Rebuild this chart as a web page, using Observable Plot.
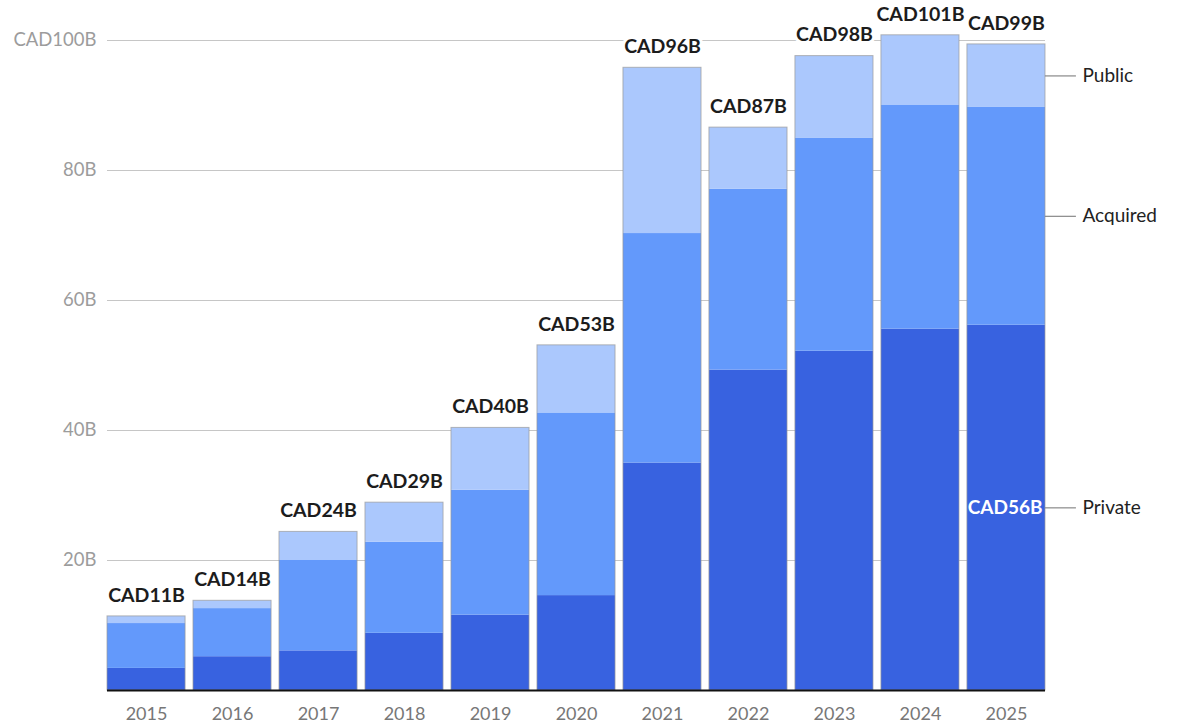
<!DOCTYPE html>
<html>
<head>
<meta charset="utf-8">
<script src="https://cdn.jsdelivr.net/npm/d3@7"></script>
<script src="https://cdn.jsdelivr.net/npm/@observablehq/plot@0.6"></script>
<style>
  html, body { margin: 0; padding: 0; background: #fff; }
  #chart svg { display: block; }
</style>
</head>
<body>
<div id="chart"></div>
<script>
const years = ["2015","2016","2017","2018","2019","2020","2021","2022","2023","2024","2025"];
const privateVals  = [3.4, 5.2, 6.1, 8.8, 11.6, 14.6, 35.0, 49.3, 52.2, 55.6, 56.2];
const acquiredVals = [6.9, 7.4, 13.9, 14.0, 19.2, 28.1, 35.3, 27.8, 32.8, 34.4, 33.5];
const publicVals   = [1.1, 1.2, 4.4, 6.1, 9.6, 10.4, 25.5, 9.5, 12.6, 10.8, 9.7];
const seriesNames  = ["Private", "Acquired", "Public"];
const seriesColors = ["#3862e0", "#6399fb", "#abc8fd"];
const yTicks = [20, 40, 60, 80, 100];

const seriesVals = [privateVals, acquiredVals, publicVals];
const long = [];
years.forEach((yr, i) => {
  seriesNames.forEach((s, k) => long.push({year: yr, type: s, value: seriesVals[k][i]}));
});
const totals = years.map((yr, i) => ({year: yr, total: privateVals[i] + acquiredVals[i] + publicVals[i]}));

// legend on last bar: segment midpoints
const last = years.length - 1;
const legend = [];
let acc = 0;
seriesNames.forEach((s, k) => {
  const v = seriesVals[k][last];
  legend.push({year: years[last], type: s, mid: acc + v / 2, value: v});
  acc += v;
});

const fmtB = d => "CAD" + Math.round(d) + "B";

const chart = Plot.plot({
  width: 1177,
  height: 725,
  marginLeft: 107,
  marginRight: 132,
  marginTop: 40,
  marginBottom: 35,
  style: {fontFamily: "Lato, 'Open Sans', sans-serif", fontSize: "18px", background: "#fff"},
  x: {domain: years, paddingInner: 0.092, paddingOuter: 0, round: false, label: null},
  y: {domain: [0, 100], label: null},
  color: {domain: seriesNames, range: seriesColors},
  marks: [
    Plot.gridY(yTicks, {stroke: "#c6c6c6", strokeOpacity: 1, strokeWidth: 1.2}),
    Plot.axisY({ticks: yTicks, tickSize: 0, tickPadding: 11, fontSize: 18.5, color: "#9c9c9c",
      tickFormat: d => d === 100 ? "CAD100B" : d + "B", label: null}),
    Plot.axisX({tickSize: 0, tickPadding: 17, fontSize: 18, color: "#777", label: null}),
    Plot.barY(long, {x: "year", y: "value", fill: "type"}),
    Plot.barY(totals, {x: "year", y: "total", fill: "none", stroke: "#9a9a9a", strokeOpacity: 0.7, strokeWidth: 1}),
    Plot.ruleY([0], {stroke: "#111", strokeWidth: 2}),
    Plot.text(totals, {x: "year", y: "total", text: d => fmtB(d.total), dy: -21,
      fontWeight: "bold", fontSize: 19.5, fill: "#1c1c1c", stroke: "white", strokeWidth: 6}),
    Plot.text(legend.filter(d => d.type === "Private"), {x: "year", y: "mid", text: d => fmtB(d.value),
      textAnchor: "end", dx: 36, fontWeight: "bold", fontSize: 19, fill: "white"}),
    Plot.tickY(legend, {x: "year", y: "mid", dx: 78, stroke: "#888", strokeWidth: 1.2, strokeDasharray: "31,300"}),
    Plot.text(legend, {x: "year", y: "mid", text: "type", textAnchor: "start", dx: 76, fontSize: 19, fill: "#222"})
  ]
});
document.getElementById("chart").appendChild(chart);
</script>
</body>
</html>
